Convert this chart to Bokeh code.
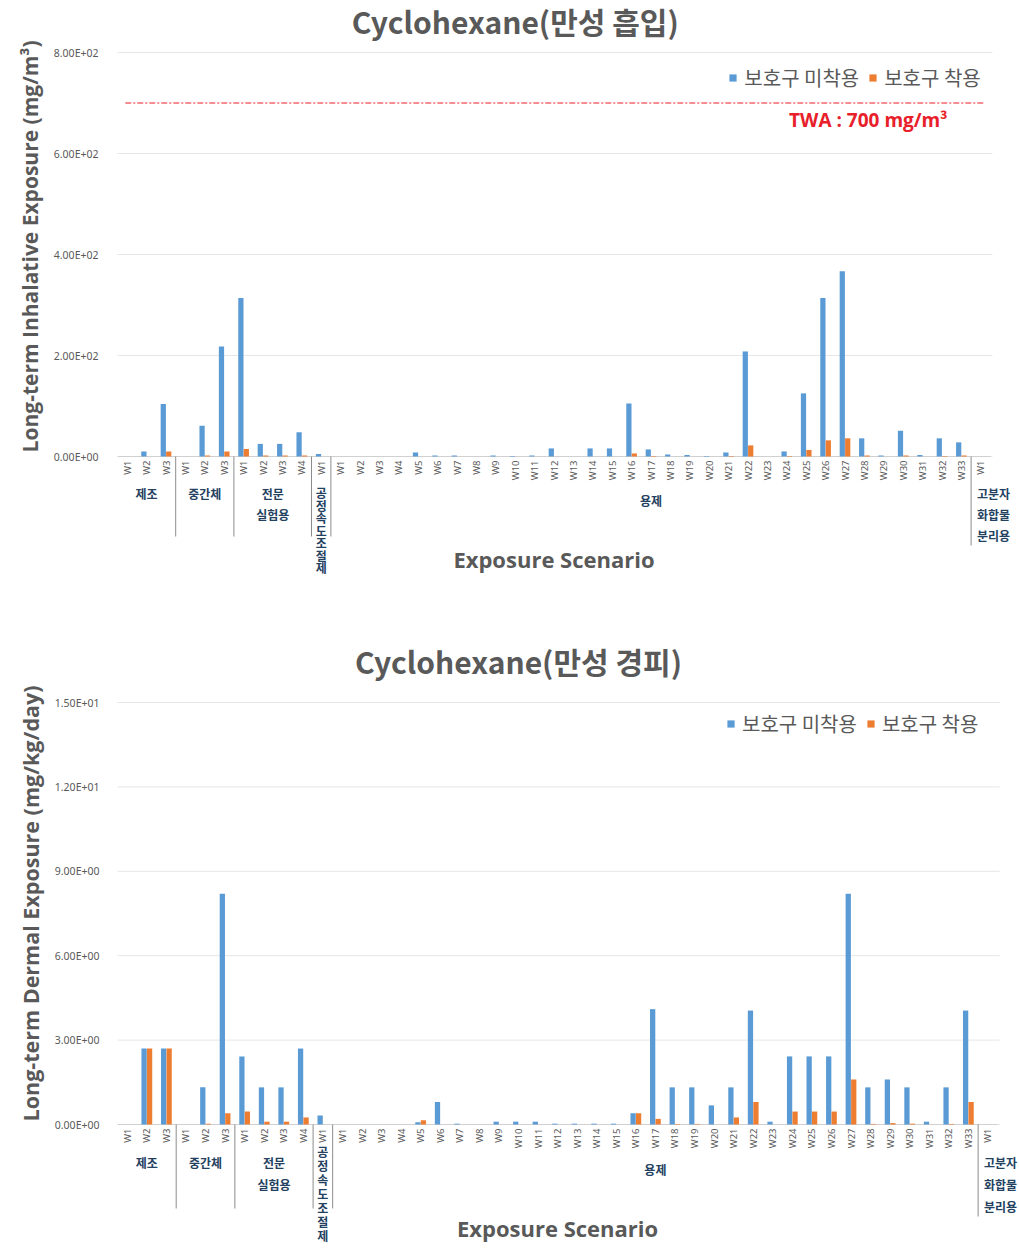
import math

from bokeh.core.properties import value
from bokeh.embed import file_html
from bokeh.layouts import column
from bokeh.models import (ColumnDataSource, FixedTicker, Legend, LegendItem,
                          Range1d, Title)
from bokeh.plotting import figure
from bokeh.resources import INLINE
from bokeh.transform import dodge

# ---------------------------------------------------------------- categories
GROUP_LINES = [["제조"], ["중간체"], ["전문", "실험용"], list("공정속도조절제"),
               ["용제"], ["고분자", "화합물", "분리용"]]
GROUP_SIZES = [3, 3, 4, 1, 33, 1]
SCENARIOS = [f"W{i}" for n in GROUP_SIZES for i in range(1, n + 1)]
SERIES = ["보호구 미착용", "보호구 착용"]

# --------------------------------------------------- inhalation (mg/m3)
inh_no_ppe = [0, 10, 104,
              0, 61, 218,
              314, 25, 25, 48,
              5,
              0, 0, 0, 0, 8, 2, 2, 0, 2, 1, 2, 16, 0, 16, 16, 105, 14, 4, 3, 1,
              8, 208, 0, 10, 125, 314, 367, 36, 2, 51, 3, 36, 28,
              0]
inh_ppe = [0, 0, 10,
           0, 2, 10,
           15, 2, 2, 2,
           0,
           0, 0, 0, 0, 0, 0, 0, 0, 0, 0, 0, 0, 0, 0, 0, 6, 1, 0, 0, 0,
           1, 22, 0, 1, 13, 32, 36, 2, 0, 2, 0, 1, 2,
           0]
TWA = 700

# --------------------------------------------------- dermal (mg/kg/day)
der_no_ppe = [0, 2.7, 2.7,
              0, 1.32, 8.2,
              2.42, 1.32, 1.32, 2.7,
              0.32,
              0, 0, 0, 0, 0.08, 0.8, 0.03, 0, 0.1, 0.1, 0.1, 0.03, 0.03, 0.03,
              0.03, 0.4, 4.1, 1.32, 1.32, 0.68, 1.32, 4.05, 0.1, 2.42, 2.42,
              2.42, 8.2, 1.32, 1.6, 1.32, 0.1, 1.32, 4.05,
              0]
der_ppe = [0, 2.7, 2.7,
           0, 0.03, 0.4,
           0.46, 0.1, 0.1, 0.25,
           0,
           0, 0, 0, 0, 0.15, 0, 0, 0, 0, 0, 0, 0, 0, 0,
           0, 0.4, 0.2, 0.02, 0.02, 0, 0.25, 0.8, 0, 0.46, 0.46,
           0.46, 1.6, 0.02, 0.05, 0.03, 0, 0.02, 0.8,
           0]

INH_TICKS = [0, 200, 400, 600, 800]
DER_TICKS = [0, 3, 6, 9, 12, 15]

BLUE = "#5B9BD5"
ORANGE = "#ED7D31"
GRAY = "#595959"
NAVY = "#24415F"
RED = "#E8202A"
KR = "Noto Sans CJK KR"
WIDTH = 1019


def chart(title, ylabel, ticks, no_ppe, ppe, g):
    n = len(SCENARIOS)
    ymax = ticks[-1]
    k = (g["y0"] - g["ytop"]) / ymax          # pixels per data unit
    fw = WIDTH - g["left"]
    p = figure(
        x_range=Range1d(0, fw / g["cw"]),
        y_range=Range1d(-(g["h"] - g["y0"]) / k, ymax + g["ytop"] / k),
        frame_width=fw, frame_height=g["h"],
        min_border_left=g["left"], min_border_right=0,
        min_border_top=0, min_border_bottom=0,
        output_backend="svg", toolbar_location=None,
        background_fill_color="white", border_fill_color="white",
    )
    p.outline_line_color = None
    p.xaxis.visible = False
    p.xgrid.visible = False
    p.ygrid.visible = False

    # horizontal grid lines and category baseline
    p.segment(x0=-0.1, y0=ticks, x1=n + 0.1, y1=ticks,
              line_color="#E6E6E6", line_width=1, level="underlay")
    p.segment(x0=0, y0=0, x1=n, y1=0, line_color="#D0D0D0", line_width=1)

    pos = [i + 0.5 for i in range(n)]
    src = ColumnDataSource(dict(x=pos, a=no_ppe, b=ppe, label=SCENARIOS))
    rb = p.vbar(x=dodge("x", -0.14), top="a", width=0.27, source=src,
                fill_color=BLUE, line_color=None)
    ro = p.vbar(x=dodge("x", 0.14), top="b", width=0.27, source=src,
                fill_color=ORANGE, line_color=None)

    # scenario labels under each category
    p.text(x="x", y=0, text="label", source=src, angle=math.pi / 2,
           text_align="right", text_baseline="middle", y_offset=4,
           text_font=value("Noto Sans"), text_font_size="9.5px",
           text_color=GRAY)

    # group labels and separators
    cx, cy, ct, lx, ly, lt, sx, sd = [], [], [], [], [], [], [], []
    start = 0
    for gi, (lines, size) in enumerate(zip(GROUP_LINES, GROUP_SIZES)):
        last = gi == len(GROUP_SIZES) - 1
        if len(lines) == 7:
            for j, ch in enumerate(lines):
                cx.append(start + size / 2)
                cy.append(g["vert0"] + j * g["vstep"])
                ct.append(ch)
        else:
            for j, line in enumerate(lines):
                off = g["line0"] + j * g["lstep"] + (7 if size > 30 else 0)
                if last:
                    lx.append(start + 0.3); ly.append(off); lt.append(line)
                else:
                    cx.append(start + size / 2); cy.append(off); ct.append(line)
        start += size
        if not last:
            sx.append(start)
            sd.append(g["sep_last"] if gi == len(GROUP_SIZES) - 2 else g["sep"])

    p.text(x=cx, y=0, text=ct, y_offset=cy, text_align="center",
           text_baseline="middle", text_font=value(KR), text_font_size="12px",
           text_font_style="bold", text_color=NAVY)
    p.text(x=lx, y=0, text=lt, y_offset=ly, text_align="left",
           text_baseline="middle", text_font=value(KR), text_font_size="12px",
           text_font_style="bold", text_color=NAVY)
    p.ray(x=sx, y=0, length=sd, length_units="screen", angle=-math.pi / 2,
          line_color="#8C8C8C", line_width=1)

    # chart title and category axis title
    p.text(x=[n / 2 - 2], y=[ymax], y_offset=-(g["ytop"] - g["title_y"]),
           text=[title], text_align="center", text_baseline="middle",
           text_font=value(KR), text_font_size="30px", text_font_style="bold",
           text_color=GRAY)
    p.text(x=[n / 2], y=[0], y_offset=g["xlabel_y"], text=["Exposure Scenario"],
           text_align="center", text_baseline="middle",
           text_font=value("Open Sans"), text_font_size="22px",
           text_font_style="bold", text_color=GRAY)

    ya = p.yaxis[0]
    ya.ticker = FixedTicker(ticks=ticks)
    ya.major_label_overrides = {t: f"{t:.2E}" for t in ticks}
    ya.major_label_text_font = "Noto Sans"
    ya.major_label_text_font_size = "10.5px"
    ya.major_label_text_color = GRAY
    ya.major_label_standoff = g["ytick_standoff"]
    ya.major_tick_line_color = None
    ya.minor_tick_line_color = None
    ya.axis_line_color = None

    # value-axis title, anchored at its top end
    p.add_layout(Title(text=ylabel, align="right", offset=g["ylabel_top"],
                       standoff=g["ylabel_standoff"], text_font="Open Sans",
                       text_font_size=g["ylabel_size"], text_font_style="bold",
                       text_color=GRAY), "left")

    legend = Legend(items=[LegendItem(label=SERIES[0], renderers=[rb]),
                           LegendItem(label=SERIES[1], renderers=[ro])],
                    orientation="horizontal", location=g["legend_at"],
                    margin=0, padding=0,
                    border_line_color=None, background_fill_alpha=0,
                    label_text_font=KR, label_text_font_size="20px",
                    label_text_color=GRAY, glyph_width=9, glyph_height=9,
                    label_standoff=7, spacing=9)
    p.add_layout(legend)
    return p, n


TOP = dict(left=115, cw=19.4, h=610, ytop=52, y0=456, title_y=20,
           xlabel_y=102, ytick_standoff=13, ylabel_size="21px",
           ylabel_top=40, ylabel_standoff=14,
           vert0=36, vstep=12.5, line0=37, lstep=21,
           sep=80, sep_last=89, legend_at=(616, 518))
BOT = dict(left=117, cw=19.56, h=638, ytop=92, y0=514, title_y=50,
           xlabel_y=103, ytick_standoff=12, ylabel_size="21.5px",
           ylabel_top=75, ylabel_standoff=14,
           vert0=27, vstep=14, line0=38, lstep=22,
           sep=84, sep_last=92, legend_at=(609, 510))

p1, n1 = chart("Cyclohexane(만성 흡입)", "Long-term Inhalative Exposure (mg/m³)",
               INH_TICKS, inh_no_ppe, inh_ppe, TOP)
# occupational exposure limit (time-weighted average)
p1.segment(x0=0.4, y0=TWA, x1=n1 - 0.3, y1=TWA, line_color=RED,
           line_width=1.2, line_dash="6 2 2 2")
p1.text(x=[n1 - 6.3], y=[TWA], y_offset=17, text=[f"TWA : {TWA} mg/m³"],
        text_align="center", text_baseline="middle",
        text_font=value("Open Sans"), text_font_size="19px",
        text_font_style="bold", text_color=RED)

p2, _ = chart("Cyclohexane(만성 경피)", "Long-term Dermal Exposure (mg/kg/day)",
              DER_TICKS, der_no_ppe, der_ppe, BOT)

layout = column(p1, p2, spacing=0)
open("out.html", "w").write(file_html(layout, INLINE))
